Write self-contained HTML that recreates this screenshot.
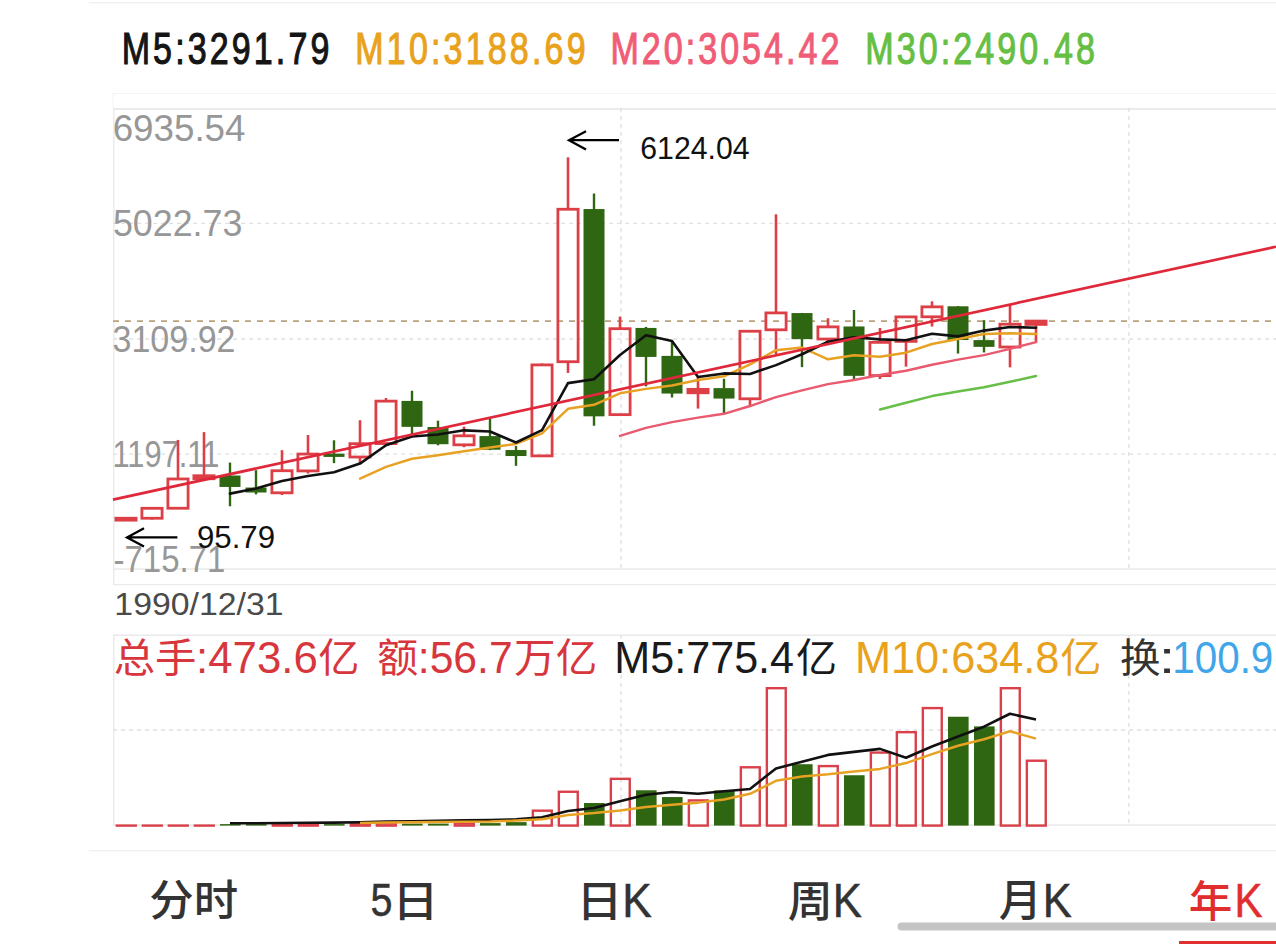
<!DOCTYPE html>
<html><head><meta charset="utf-8"><title>K</title>
<style>
html,body{margin:0;padding:0;background:#fff;}
body{width:1276px;height:944px;overflow:hidden;position:relative;}
svg{position:absolute;left:0;top:0;display:block;}
text{white-space:pre;}
</style></head><body>
<svg width="1276" height="944" viewBox="0 0 1276 944">
<rect x="89" y="2" width="1200" height="1.3" fill="#efefef"/>
<rect x="112.5" y="93" width="1200" height="1" fill="#f4f4f4"/>
<rect x="112.5" y="93" width="1" height="15" fill="#f4f4f4"/>
<rect x="113" y="108" width="1200" height="2" fill="#ebebeb"/>
<rect x="113" y="108" width="1.5" height="477" fill="#ebebeb"/>
<rect x="113" y="568.3" width="1200" height="1.4" fill="#e8e8e8"/>
<rect x="113" y="584" width="1200" height="1.3" fill="#ebebeb"/>
<rect x="113" y="634.5" width="1200" height="1.4" fill="#e8e8e8"/>
<rect x="113" y="634.5" width="1.5" height="191.5" fill="#ebebeb"/>
<rect x="113" y="824.3" width="1200" height="1.4" fill="#e8e8e8"/>
<rect x="89" y="850" width="1200" height="1.3" fill="#eeeeee"/>
<line x1="113.2" y1="223.4" x2="1276" y2="223.4" stroke="#e0e0e0" stroke-width="1.3" stroke-dasharray="4 4"/>
<line x1="113.2" y1="339.0" x2="1276" y2="339.0" stroke="#e0e0e0" stroke-width="1.3" stroke-dasharray="4 4"/>
<line x1="113.2" y1="454.2" x2="1276" y2="454.2" stroke="#e0e0e0" stroke-width="1.3" stroke-dasharray="4 4"/>
<line x1="621.0" y1="108" x2="621.0" y2="568.3" stroke="#e0e0e0" stroke-width="1.4" stroke-dasharray="3.7 4.3"/>
<line x1="621.0" y1="635" x2="621.0" y2="825" stroke="#e0e0e0" stroke-width="1.4" stroke-dasharray="3.7 4.3"/>
<line x1="1128.8" y1="108" x2="1128.8" y2="568.3" stroke="#e0e0e0" stroke-width="1.4" stroke-dasharray="3.7 4.3"/>
<line x1="1128.8" y1="635" x2="1128.8" y2="825" stroke="#e0e0e0" stroke-width="1.4" stroke-dasharray="3.7 4.3"/>
<line x1="113.2" y1="730" x2="1276" y2="730" stroke="#e0e0e0" stroke-width="1.3" stroke-dasharray="4 4"/>
<text x="112.63" y="140.8" fill="#979797" textLength="132.85" lengthAdjust="spacingAndGlyphs"><tspan font-size="37.5" font-family="'Liberation Sans', sans-serif">6935.54</tspan></text>
<text x="112.97" y="235.9" fill="#979797" textLength="129.36" lengthAdjust="spacingAndGlyphs"><tspan font-size="37.5" font-family="'Liberation Sans', sans-serif">5022.73</tspan></text>
<text x="112.54" y="351.5" fill="#979797" textLength="122.93" lengthAdjust="spacingAndGlyphs"><tspan font-size="37.5" font-family="'Liberation Sans', sans-serif">3109.92</tspan></text>
<text x="112.53" y="466.8" fill="#979797" textLength="106.82" lengthAdjust="spacingAndGlyphs"><tspan font-size="37.5" font-family="'Liberation Sans', sans-serif">1197.11</tspan></text>
<text x="113.49" y="572" fill="#979797" textLength="111.95" lengthAdjust="spacingAndGlyphs"><tspan font-size="37.5" font-family="'Liberation Sans', sans-serif">-715.71</tspan></text>
<line x1="113" y1="321.09" x2="1276" y2="321.09" stroke="#bba27e" stroke-width="1.8" stroke-dasharray="6 6"/>
<line x1="126" y1="518.24" x2="126" y2="518.24" stroke="#dc3f45" stroke-width="2.6"/>
<line x1="126" y1="520.14" x2="126" y2="520.16" stroke="#dc3f45" stroke-width="2.6"/>
<rect x="115.9" y="518.24" width="20.2" height="1.9" fill="#dc3f45" stroke="#dc3f45" stroke-width="2.8"/>
<line x1="152" y1="508.3" x2="152" y2="508.3" stroke="#dc3f45" stroke-width="2.6"/>
<line x1="152" y1="518.24" x2="152" y2="519.61" stroke="#dc3f45" stroke-width="2.6"/>
<rect x="141.9" y="508.3" width="20.2" height="9.94" fill="none" stroke="#dc3f45" stroke-width="2.8"/>
<line x1="178" y1="439.92" x2="178" y2="478.96" stroke="#dc3f45" stroke-width="2.6"/>
<line x1="178" y1="508.24" x2="178" y2="508.3" stroke="#dc3f45" stroke-width="2.6"/>
<rect x="167.9" y="478.96" width="20.2" height="29.29" fill="none" stroke="#dc3f45" stroke-width="2.8"/>
<line x1="204" y1="432.1" x2="204" y2="475.74" stroke="#dc3f45" stroke-width="2.6"/>
<line x1="204" y1="478.73" x2="204" y2="480.76" stroke="#dc3f45" stroke-width="2.6"/>
<rect x="193.9" y="475.74" width="20.2" height="2.99" fill="#dc3f45" stroke="#dc3f45" stroke-width="2.8"/>
<line x1="230" y1="462.55" x2="230" y2="506.31" stroke="#2f6612" stroke-width="2.4"/>
<rect x="219.5" y="475.51" width="21" height="11.43" fill="#2f6612"/>
<line x1="256" y1="470.17" x2="256" y2="494.36" stroke="#2f6612" stroke-width="2.4"/>
<rect x="245.5" y="487.54" width="21" height="4.96" fill="#2f6612"/>
<line x1="282" y1="450.17" x2="282" y2="470.73" stroke="#dc3f45" stroke-width="2.6"/>
<line x1="282" y1="492.81" x2="282" y2="495.06" stroke="#dc3f45" stroke-width="2.6"/>
<rect x="271.9" y="470.73" width="20.2" height="22.07" fill="none" stroke="#dc3f45" stroke-width="2.8"/>
<line x1="308" y1="435.03" x2="308" y2="454.06" stroke="#dc3f45" stroke-width="2.6"/>
<line x1="308" y1="470.91" x2="308" y2="473.55" stroke="#dc3f45" stroke-width="2.6"/>
<rect x="297.9" y="454.06" width="20.2" height="16.85" fill="none" stroke="#dc3f45" stroke-width="2.8"/>
<line x1="334" y1="440.28" x2="334" y2="463.15" stroke="#2f6612" stroke-width="2.4"/>
<rect x="323.5" y="453.64" width="21" height="3.27" fill="#2f6612"/>
<line x1="360" y1="420.23" x2="360" y2="443.67" stroke="#dc3f45" stroke-width="2.6"/>
<line x1="360" y1="457.02" x2="360" y2="462.86" stroke="#dc3f45" stroke-width="2.6"/>
<rect x="349.9" y="443.67" width="20.2" height="13.34" fill="none" stroke="#dc3f45" stroke-width="2.8"/>
<line x1="386" y1="397.99" x2="386" y2="401.13" stroke="#dc3f45" stroke-width="2.6"/>
<line x1="386" y1="443.55" x2="386" y2="444" stroke="#dc3f45" stroke-width="2.6"/>
<rect x="375.9" y="401.13" width="20.2" height="42.42" fill="none" stroke="#dc3f45" stroke-width="2.8"/>
<line x1="412" y1="390.78" x2="412" y2="434.75" stroke="#2f6612" stroke-width="2.4"/>
<rect x="401.5" y="400.91" width="21" height="25.95" fill="#2f6612"/>
<line x1="438" y1="420.66" x2="438" y2="445.32" stroke="#2f6612" stroke-width="2.4"/>
<rect x="427.5" y="427.01" width="21" height="17.2" fill="#2f6612"/>
<line x1="464" y1="426.64" x2="464" y2="435.82" stroke="#dc3f45" stroke-width="2.6"/>
<line x1="464" y1="444.83" x2="464" y2="447.24" stroke="#dc3f45" stroke-width="2.6"/>
<rect x="453.9" y="435.82" width="20.2" height="9" fill="none" stroke="#dc3f45" stroke-width="2.8"/>
<line x1="490" y1="418.61" x2="490" y2="450.12" stroke="#2f6612" stroke-width="2.4"/>
<rect x="479.5" y="436.08" width="21" height="13.62" fill="#2f6612"/>
<line x1="516" y1="445.96" x2="516" y2="465.84" stroke="#2f6612" stroke-width="2.4"/>
<rect x="505.5" y="450.04" width="21" height="6" fill="#2f6612"/>
<line x1="542" y1="363.49" x2="542" y2="364.9" stroke="#dc3f45" stroke-width="2.6"/>
<line x1="542" y1="455.87" x2="542" y2="455.99" stroke="#dc3f45" stroke-width="2.6"/>
<rect x="531.9" y="364.9" width="20.2" height="90.98" fill="none" stroke="#dc3f45" stroke-width="2.8"/>
<line x1="568" y1="157.34" x2="568" y2="209.25" stroke="#dc3f45" stroke-width="2.6"/>
<line x1="568" y1="361.72" x2="568" y2="372.96" stroke="#dc3f45" stroke-width="2.6"/>
<rect x="557.9" y="209.25" width="20.2" height="152.47" fill="none" stroke="#dc3f45" stroke-width="2.8"/>
<line x1="594" y1="193.53" x2="594" y2="425.72" stroke="#2f6612" stroke-width="2.4"/>
<rect x="583.5" y="209.04" width="21" height="207.29" fill="#2f6612"/>
<line x1="620" y1="316.6" x2="620" y2="328.69" stroke="#dc3f45" stroke-width="2.6"/>
<line x1="620" y1="414.64" x2="620" y2="414.94" stroke="#dc3f45" stroke-width="2.6"/>
<rect x="609.9" y="328.69" width="20.2" height="85.95" fill="none" stroke="#dc3f45" stroke-width="2.8"/>
<line x1="646" y1="326.9" x2="646" y2="386.31" stroke="#2f6612" stroke-width="2.4"/>
<rect x="635.5" y="327.93" width="21" height="28.99" fill="#2f6612"/>
<line x1="672" y1="341.31" x2="672" y2="397.49" stroke="#2f6612" stroke-width="2.4"/>
<rect x="661.5" y="355.88" width="21" height="37.67" fill="#2f6612"/>
<line x1="698" y1="376.76" x2="698" y2="389.35" stroke="#dc3f45" stroke-width="2.6"/>
<line x1="698" y1="392.79" x2="698" y2="408.59" stroke="#dc3f45" stroke-width="2.6"/>
<rect x="687.9" y="389.35" width="20.2" height="3.44" fill="#dc3f45" stroke="#dc3f45" stroke-width="2.8"/>
<line x1="724" y1="378.78" x2="724" y2="414.6" stroke="#2f6612" stroke-width="2.4"/>
<rect x="713.5" y="388.13" width="21" height="10.44" fill="#2f6612"/>
<line x1="750" y1="330.96" x2="750" y2="331.24" stroke="#dc3f45" stroke-width="2.6"/>
<line x1="750" y1="398.8" x2="750" y2="407.09" stroke="#dc3f45" stroke-width="2.6"/>
<rect x="739.9" y="331.24" width="20.2" height="67.56" fill="none" stroke="#dc3f45" stroke-width="2.8"/>
<line x1="776" y1="214.27" x2="776" y2="312.91" stroke="#dc3f45" stroke-width="2.6"/>
<line x1="776" y1="329.8" x2="776" y2="354.35" stroke="#dc3f45" stroke-width="2.6"/>
<rect x="765.9" y="312.91" width="20.2" height="16.89" fill="none" stroke="#dc3f45" stroke-width="2.8"/>
<line x1="802" y1="312.94" x2="802" y2="367.13" stroke="#2f6612" stroke-width="2.4"/>
<rect x="791.5" y="313.07" width="21" height="26.06" fill="#2f6612"/>
<line x1="828" y1="318.25" x2="828" y2="326.88" stroke="#dc3f45" stroke-width="2.6"/>
<line x1="828" y1="339.03" x2="828" y2="344.37" stroke="#dc3f45" stroke-width="2.6"/>
<rect x="817.9" y="326.88" width="20.2" height="12.15" fill="none" stroke="#dc3f45" stroke-width="2.8"/>
<line x1="854" y1="310.03" x2="854" y2="379.01" stroke="#2f6612" stroke-width="2.4"/>
<rect x="843.5" y="326.47" width="21" height="49.36" fill="#2f6612"/>
<line x1="880" y1="328" x2="880" y2="342.35" stroke="#dc3f45" stroke-width="2.6"/>
<line x1="880" y1="375.59" x2="880" y2="379.01" stroke="#dc3f45" stroke-width="2.6"/>
<rect x="869.9" y="342.35" width="20.2" height="33.24" fill="none" stroke="#dc3f45" stroke-width="2.8"/>
<line x1="906" y1="316.78" x2="906" y2="316.89" stroke="#dc3f45" stroke-width="2.6"/>
<line x1="906" y1="341.37" x2="906" y2="366.62" stroke="#dc3f45" stroke-width="2.6"/>
<rect x="895.9" y="316.89" width="20.2" height="24.48" fill="none" stroke="#dc3f45" stroke-width="2.8"/>
<line x1="932" y1="301.33" x2="932" y2="306.86" stroke="#dc3f45" stroke-width="2.6"/>
<line x1="932" y1="316.8" x2="932" y2="326.54" stroke="#dc3f45" stroke-width="2.6"/>
<rect x="921.9" y="306.86" width="20.2" height="9.94" fill="none" stroke="#dc3f45" stroke-width="2.8"/>
<line x1="958" y1="306.13" x2="958" y2="353.57" stroke="#2f6612" stroke-width="2.4"/>
<rect x="947.5" y="306.3" width="21" height="33.7" fill="#2f6612"/>
<line x1="984" y1="320.15" x2="984" y2="352.47" stroke="#2f6612" stroke-width="2.4"/>
<rect x="973.5" y="340.1" width="21" height="6.78" fill="#2f6612"/>
<line x1="1010" y1="304.78" x2="1010" y2="324.19" stroke="#dc3f45" stroke-width="2.6"/>
<line x1="1010" y1="347.02" x2="1010" y2="367.33" stroke="#dc3f45" stroke-width="2.6"/>
<rect x="999.9" y="324.19" width="20.2" height="22.82" fill="none" stroke="#dc3f45" stroke-width="2.8"/>
<line x1="1036" y1="320.21" x2="1036" y2="321.09" stroke="#dc3f45" stroke-width="2.6"/>
<line x1="1036" y1="324.42" x2="1036" y2="342.92" stroke="#dc3f45" stroke-width="2.6"/>
<rect x="1025.9" y="321.09" width="20.2" height="3.33" fill="#dc3f45" stroke="#dc3f45" stroke-width="2.8"/>
<polyline points="880,409.52 906,402.81 932,396.1 958,391.47 984,387.17 1010,381.75 1036,376.03" fill="none" stroke="#68bf48" stroke-width="2.5" stroke-linejoin="round" stroke-linecap="round"/>
<polyline points="620,435.95 646,427.88 672,422.15 698,417.67 724,413.81 750,406.02 776,397.04 802,390.46 828,384.1 854,380.05 880,374.98 906,370.77 932,364.77 958,359.56 984,355.11 1010,348.84 1036,342.09" fill="none" stroke="#e95a6f" stroke-width="2.4" stroke-linejoin="round" stroke-linecap="round"/>
<polyline points="360,478.61 386,466.89 412,458.75 438,455.27 464,451.28 490,447.56 516,443.91 542,433.33 568,408.85 594,404.79 620,393.29 646,388.87 672,385.54 698,380.06 724,376.33 750,364.48 776,350.17 802,347.59 828,359.36 854,355.31 880,356.67 906,352.67 932,344 958,339.07 984,333.9 1010,333.19 1036,334.01" fill="none" stroke="#e8a223" stroke-width="2.5" stroke-linejoin="round" stroke-linecap="round"/>
<polyline points="230,493.64 256,488.49 282,480.97 308,475.99 334,472.23 360,463.58 386,445.3 412,436.53 438,434.56 464,430.34 490,431.54 516,442.53 542,430.14 568,383.14 594,379.25 620,355.04 646,335.22 672,340.95 698,376.97 724,373.42 750,373.93 776,365.13 802,354.24 828,341.75 854,337.2 880,339.42 906,340.21 932,333.76 958,336.38 984,330.59 1010,326.96 1036,327.8" fill="none" stroke="#111111" stroke-width="2.6" stroke-linejoin="round" stroke-linecap="round"/>
<line x1="113" y1="499.6" x2="1276" y2="246.7" stroke="#e0283b" stroke-width="2.7"/>
<path d="M619 140.2 H569.5 M586 131.2 L569 140.2 L586 149.4" fill="none" stroke="#000" stroke-width="2.3" stroke-linejoin="miter"/>
<path d="M177.4 537.4 H127.5 M144 528.2 L127 537.4 L144 546.4" fill="none" stroke="#000" stroke-width="2.3"/>
<rect x="116.85" y="825.6" width="18.9" height="0.01" fill="none" stroke="#d9404a" stroke-width="2.4"/>
<rect x="142.85" y="825.6" width="18.9" height="0.01" fill="none" stroke="#d9404a" stroke-width="2.4"/>
<rect x="168.85" y="825.6" width="18.9" height="0.01" fill="none" stroke="#d9404a" stroke-width="2.4"/>
<rect x="194.85" y="825.6" width="18.9" height="0.01" fill="none" stroke="#d9404a" stroke-width="2.4"/>
<rect x="220" y="824.1" width="20.6" height="1.5" fill="#2f6612"/>
<rect x="246" y="824.1" width="20.6" height="1.5" fill="#2f6612"/>
<rect x="272.85" y="824.11" width="18.9" height="1.49" fill="none" stroke="#d9404a" stroke-width="2.4"/>
<rect x="298.85" y="824.11" width="18.9" height="1.49" fill="none" stroke="#d9404a" stroke-width="2.4"/>
<rect x="324" y="824.1" width="20.6" height="1.5" fill="#2f6612"/>
<rect x="350.85" y="823.61" width="18.9" height="1.99" fill="none" stroke="#d9404a" stroke-width="2.4"/>
<rect x="376.85" y="823.11" width="18.9" height="2.49" fill="none" stroke="#d9404a" stroke-width="2.4"/>
<rect x="402" y="823.61" width="20.6" height="1.99" fill="#2f6612"/>
<rect x="428" y="823.61" width="20.6" height="1.99" fill="#2f6612"/>
<rect x="454.85" y="823.11" width="18.9" height="2.49" fill="none" stroke="#d9404a" stroke-width="2.4"/>
<rect x="480" y="823.11" width="20.6" height="2.49" fill="#2f6612"/>
<rect x="506" y="822.12" width="20.6" height="3.48" fill="#2f6612"/>
<rect x="532.85" y="810.68" width="18.9" height="14.93" fill="none" stroke="#d9404a" stroke-width="2.4"/>
<rect x="558.85" y="791.77" width="18.9" height="33.83" fill="none" stroke="#d9404a" stroke-width="2.4"/>
<rect x="584" y="803.01" width="20.6" height="22.59" fill="#2f6612"/>
<rect x="610.85" y="778.84" width="18.9" height="46.77" fill="none" stroke="#d9404a" stroke-width="2.4"/>
<rect x="636" y="790.28" width="20.6" height="35.32" fill="#2f6612"/>
<rect x="662" y="797.04" width="20.6" height="28.56" fill="#2f6612"/>
<rect x="688.85" y="800.43" width="18.9" height="25.17" fill="none" stroke="#d9404a" stroke-width="2.4"/>
<rect x="714" y="790.48" width="20.6" height="35.12" fill="#2f6612"/>
<rect x="740.85" y="767.29" width="18.9" height="58.31" fill="none" stroke="#d9404a" stroke-width="2.4"/>
<rect x="766.85" y="688.19" width="18.9" height="137.41" fill="none" stroke="#d9404a" stroke-width="2.4"/>
<rect x="792" y="764.21" width="20.6" height="61.39" fill="#2f6612"/>
<rect x="818.85" y="766.1" width="18.9" height="59.5" fill="none" stroke="#d9404a" stroke-width="2.4"/>
<rect x="844" y="775.25" width="20.6" height="50.35" fill="#2f6612"/>
<rect x="870.85" y="752.57" width="18.9" height="73.03" fill="none" stroke="#d9404a" stroke-width="2.4"/>
<rect x="896.85" y="732.17" width="18.9" height="93.43" fill="none" stroke="#d9404a" stroke-width="2.4"/>
<rect x="922.85" y="708.09" width="18.9" height="117.51" fill="none" stroke="#d9404a" stroke-width="2.4"/>
<rect x="948" y="716.75" width="20.6" height="108.85" fill="#2f6612"/>
<rect x="974" y="726.4" width="20.6" height="99.2" fill="#2f6612"/>
<rect x="1000.85" y="688.19" width="18.9" height="137.41" fill="none" stroke="#d9404a" stroke-width="2.4"/>
<rect x="1026.85" y="760.73" width="18.9" height="64.87" fill="none" stroke="#d9404a" stroke-width="2.4"/>
<polyline points="230,823.3 256,823.2 282,823 308,822.8 334,822.6 360,822.2 386,821.6 412,821.2 438,820.8 464,820.4 490,820.1 516,819.3 542,817.3 568,811 594,808 620,801.16 646,794.76 672,792.02 698,793.76 724,791.24 750,788.92 776,768.4 802,761.8 828,754.9 854,751.84 880,748.88 906,757.72 932,746.44 958,736.52 984,726.7 1010,713.76 1036,719.5" fill="none" stroke="#111" stroke-width="2.6" stroke-linejoin="round"/>
<polyline points="360,822.9 386,822.6 412,822.3 438,822 464,821.8 490,821.6 516,820.6 542,819.3 568,815 594,813.1 620,810.43 646,806.93 672,804.76 698,802.63 724,799.45 750,793.84 776,780.78 802,776.41 828,774.33 854,771.54 880,768.9 906,763.06 932,754.12 958,745.71 984,739.27 1010,731.32 1036,738.61" fill="none" stroke="#e8a223" stroke-width="2.5" stroke-linejoin="round"/>
<rect x="897.5" y="922.5" width="400" height="8" rx="4" fill="#c4c4c4"/>
<rect x="1179" y="941" width="120" height="4" fill="#e0302f"/>
<text transform="translate(121.67 63.7) scale(0.78 1)" x="0" y="0" fill="#151515" stroke="#151515" stroke-width="1.1" textLength="266.22" lengthAdjust="spacing"><tspan font-size="43.6" font-family="'Liberation Sans', sans-serif">M5:3291.79</tspan></text>
<text transform="translate(355.29 63.7) scale(0.78 1)" x="0" y="0" fill="#e9a21c" stroke="#e9a21c" stroke-width="1.1" textLength="295.26" lengthAdjust="spacing"><tspan font-size="43.6" font-family="'Liberation Sans', sans-serif">M10:3188.69</tspan></text>
<text transform="translate(610.4 63.7) scale(0.78 1)" x="0" y="0" fill="#ef5e76" stroke="#ef5e76" stroke-width="1.1" textLength="293.52" lengthAdjust="spacing"><tspan font-size="43.6" font-family="'Liberation Sans', sans-serif">M20:3054.42</tspan></text>
<text transform="translate(865.29 63.7) scale(0.78 1)" x="0" y="0" fill="#66bf44" stroke="#66bf44" stroke-width="1.1" textLength="294.3" lengthAdjust="spacing"><tspan font-size="43.6" font-family="'Liberation Sans', sans-serif">M30:2490.48</tspan></text>
<text x="640.28" y="158.8" fill="#111111" textLength="109.24" lengthAdjust="spacingAndGlyphs"><tspan font-size="32" font-family="'Liberation Sans', sans-serif">6124.04</tspan></text>
<text x="196.9" y="547.7" fill="#111111" textLength="78.19" lengthAdjust="spacingAndGlyphs"><tspan font-size="32" font-family="'Liberation Sans', sans-serif">95.79</tspan></text>
<text x="114.36" y="615.3" fill="#4a4a4a" textLength="169.15" lengthAdjust="spacingAndGlyphs"><tspan font-size="30.9" font-family="'Liberation Sans', sans-serif">1990/12/31</tspan></text>
<text x="113.65" y="671.8" fill="#d8363d" textLength="82.77" lengthAdjust="spacingAndGlyphs"><tspan font-size="39.5" font-family="'Liberation Sans', 'Noto Sans CJK SC', sans-serif">总手</tspan></text>
<text x="196.12" y="673.3" fill="#d8363d" textLength="121.71" lengthAdjust="spacingAndGlyphs"><tspan font-size="44" font-family="'Liberation Sans', sans-serif">:473.6</tspan></text>
<text x="318.21" y="671.8" fill="#d8363d" textLength="41.19" lengthAdjust="spacingAndGlyphs"><tspan font-size="39.5" font-family="'Liberation Sans', 'Noto Sans CJK SC', sans-serif">亿</tspan></text>
<text x="377.36" y="671.8" fill="#d8363d" textLength="40.95" lengthAdjust="spacingAndGlyphs"><tspan font-size="39.5" font-family="'Liberation Sans', 'Noto Sans CJK SC', sans-serif">额</tspan></text>
<text x="417.8" y="673.3" fill="#d8363d" textLength="94.89" lengthAdjust="spacingAndGlyphs"><tspan font-size="44" font-family="'Liberation Sans', sans-serif">:56.7</tspan></text>
<text x="514.1" y="671.8" fill="#d8363d" textLength="83.09" lengthAdjust="spacingAndGlyphs"><tspan font-size="39.5" font-family="'Liberation Sans', 'Noto Sans CJK SC', sans-serif">万亿</tspan></text>
<text x="614.35" y="673.3" fill="#1a1a1a" textLength="179.74" lengthAdjust="spacingAndGlyphs"><tspan font-size="44" font-family="'Liberation Sans', sans-serif">M5:775.4</tspan></text>
<text x="795.9" y="671.8" fill="#1a1a1a" textLength="41.04" lengthAdjust="spacingAndGlyphs"><tspan font-size="39.5" font-family="'Liberation Sans', 'Noto Sans CJK SC', sans-serif">亿</tspan></text>
<text x="854.98" y="673.3" fill="#e9a21c" textLength="204.42" lengthAdjust="spacingAndGlyphs"><tspan font-size="44" font-family="'Liberation Sans', sans-serif">M10:634.8</tspan></text>
<text x="1060.38" y="671.8" fill="#e9a21c" textLength="41.21" lengthAdjust="spacingAndGlyphs"><tspan font-size="39.5" font-family="'Liberation Sans', 'Noto Sans CJK SC', sans-serif">亿</tspan></text>
<text x="1119.99" y="671.8" fill="#333333" textLength="40.6" lengthAdjust="spacingAndGlyphs"><tspan font-size="39.5" font-family="'Liberation Sans', 'Noto Sans CJK SC', sans-serif">换</tspan></text>
<text x="1158.55" y="673.3" fill="#333333" textLength="17.1" lengthAdjust="spacingAndGlyphs"><tspan font-size="44" font-family="'Liberation Sans', sans-serif">:</tspan></text>
<text x="1172.27" y="673.3" fill="#41a6e9" textLength="101.06" lengthAdjust="spacingAndGlyphs"><tspan font-size="44" font-family="'Liberation Sans', sans-serif">100.9</tspan></text>
<text x="149.2" y="916.24" fill="#333333" textLength="88.91" lengthAdjust="spacingAndGlyphs"><tspan font-size="43.2" font-family="'Liberation Sans', 'Noto Sans CJK SC', sans-serif" font-weight="500">分时</tspan></text>
<text x="370.43" y="915.8" fill="#333333" stroke="#333333" stroke-width="0.5" textLength="22.01" lengthAdjust="spacingAndGlyphs"><tspan font-size="45.55" font-family="'Liberation Sans', sans-serif">5</tspan></text>
<text x="392.17" y="917" fill="#333333" textLength="46.39" lengthAdjust="spacingAndGlyphs"><tspan font-size="43.2" font-family="'Liberation Sans', 'Noto Sans CJK SC', sans-serif" font-weight="500">日</tspan></text>
<text x="576.23" y="916.9" fill="#333333" textLength="46.35" lengthAdjust="spacingAndGlyphs"><tspan font-size="43.2" font-family="'Liberation Sans', 'Noto Sans CJK SC', sans-serif" font-weight="500">日</tspan></text>
<text x="622.28" y="916.9" fill="#333333" stroke="#333333" stroke-width="0.5" textLength="29.57" lengthAdjust="spacingAndGlyphs"><tspan font-size="47.8" font-family="'Liberation Sans', sans-serif">K</tspan></text>
<text x="787.73" y="916.55" fill="#333333" textLength="45.02" lengthAdjust="spacingAndGlyphs"><tspan font-size="43.2" font-family="'Liberation Sans', 'Noto Sans CJK SC', sans-serif" font-weight="500">周</tspan></text>
<text x="832.66" y="916.9" fill="#333333" stroke="#333333" stroke-width="0.5" textLength="29.13" lengthAdjust="spacingAndGlyphs"><tspan font-size="47.8" font-family="'Liberation Sans', sans-serif">K</tspan></text>
<text x="998.65" y="915.9" fill="#333333" textLength="43.18" lengthAdjust="spacingAndGlyphs"><tspan font-size="43.2" font-family="'Liberation Sans', 'Noto Sans CJK SC', sans-serif" font-weight="500">月</tspan></text>
<text x="1042.65" y="916.9" fill="#333333" stroke="#333333" stroke-width="0.5" textLength="29.04" lengthAdjust="spacingAndGlyphs"><tspan font-size="47.8" font-family="'Liberation Sans', sans-serif">K</tspan></text>
<text x="1188.89" y="916.5" fill="#e02d2d" textLength="43.63" lengthAdjust="spacingAndGlyphs"><tspan font-size="43.2" font-family="'Liberation Sans', 'Noto Sans CJK SC', sans-serif" font-weight="500">年</tspan></text>
<text x="1234.55" y="916.9" fill="#e02d2d" stroke="#e02d2d" stroke-width="0.5" textLength="28.02" lengthAdjust="spacingAndGlyphs"><tspan font-size="47.8" font-family="'Liberation Sans', sans-serif">K</tspan></text>
</svg>
</body></html>
